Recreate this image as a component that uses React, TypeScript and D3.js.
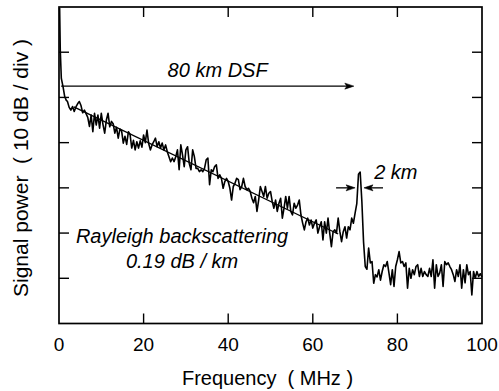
import React from 'react';
import * as d3 from 'd3';

const FREQ_TICKS = [0, 20, 40, 60, 80, 100];
const POWER_TICKS = [10, 20, 30, 40, 50, 60];

// steep start of the trace (MHz, dB)
const START_FREQ = [0.15, 0.3, 0.55, 0.95, 1.35, 1.7];
const START_DB = [69.8, 60.5, 54.2, 52.4, 50.2, 49.4];

// main trace, sampled every 0.4 MHz from 2.0 MHz
const TRACE_F0 = 2.0;
const TRACE_STEP = 0.4;
const TRACE_DB = [
  49.1, 47.8, 47.2, 48.0, 46.9, 47.9, 48.6, 49.1, 48.2, 46.6,
  47.2, 46.4, 45.6, 43.6, 46.1, 42.4, 46.5, 43.9, 46.1, 43.2,
  46.5, 44.0, 42.1, 45.0, 46.5, 43.5, 44.7, 44.2, 42.1, 43.4,
  41.0, 43.0, 42.6, 39.9, 41.4, 39.6, 42.4, 41.8, 38.8, 40.5,
  38.4, 40.2, 38.8, 40.4, 39.0, 41.7, 40.0, 42.8, 39.8, 38.4,
  39.5, 40.2, 41.0, 39.1, 40.2, 38.8, 39.9, 38.4, 39.5, 38.0,
  36.9, 35.8, 36.6, 35.8, 36.9, 38.4, 34.0, 39.5, 37.3, 34.7,
  38.4, 39.1, 35.4, 34.0, 38.4, 36.9, 34.3, 34.3, 33.6, 34.0,
  33.6, 34.3, 36.2, 36.6, 30.7, 34.0, 33.6, 34.7, 35.1, 32.1,
  32.9, 32.1, 29.9, 31.4, 32.1, 31.4, 29.9, 27.3, 30.3, 31.0,
  32.1, 31.8, 29.6, 30.3, 32.1, 30.3, 29.6, 29.9, 29.2, 27.7,
  26.7, 28.1, 24.8, 27.3, 30.3, 29.2, 28.1, 30.3, 27.7, 28.8,
  29.2, 27.0, 25.5, 27.3, 24.8, 26.6, 27.7, 23.3, 25.5, 28.1,
  25.5, 28.1, 24.8, 24.0, 26.6, 25.5, 26.2, 27.3, 24.0, 22.2,
  20.7, 22.5, 23.3, 21.8, 22.9, 21.1, 22.2, 22.9, 20.0, 21.4,
  22.5, 18.5, 22.5, 20.0, 23.3, 20.0, 17.0, 20.3, 20.7, 20.0,
  23.3, 20.3, 18.1, 20.3, 21.4, 18.9, 21.4, 20.7, 23.3, 22.2,
  24.4, 26.5, 33.0, 33.5, 27.0, 18.0, 12.6, 12.0, 16.7, 13.4,
  13.7, 8.9, 10.8, 10.3, 11.9, 9.6, 11.5, 13.0, 12.6, 13.7,
  11.2, 8.6, 11.9, 8.2, 12.6, 14.1, 15.9, 13.4, 13.7, 12.6,
  13.4, 7.8, 12.2, 10.0, 11.9, 10.8, 12.6, 13.0, 10.4, 12.2,
  10.4, 11.5, 10.8, 10.4, 12.2, 10.4, 14.1, 7.8, 13.0, 10.4,
  11.2, 13.0, 8.2, 13.7, 13.0, 13.4, 12.6, 11.9, 10.8, 9.3,
  11.9, 10.4, 13.0, 7.8, 11.9, 9.0, 13.0, 10.8, 11.5, 6.3,
  11.5, 10.0, 11.5, 10.4, 11.0, 10.3,
];

// Rayleigh fit line
const FIT_FREQ = [3.5, 66];
const FIT_DB = [47.9, 19.8];

const FONT = '"Liberation Sans", Arial, Helvetica, sans-serif';

export default function App() {
  const W = 499;
  const H = 391;
  const x = d3.scaleLinear().domain([0, 100]).range([59, 482]);
  const y = d3.scaleLinear().domain([0, 70]).range([323.5, 7]);

  const pts: [number, number][] = [];
  START_FREQ.forEach((f, i) => pts.push([f, START_DB[i]]));
  TRACE_DB.forEach((v, i) => pts.push([TRACE_F0 + i * TRACE_STEP, v]));

  const line = d3
    .line<[number, number]>()
    .x((d) => x(d[0]))
    .y((d) => y(d[1]));

  const fitPts: [number, number][] = FIT_FREQ.map((f, i) => [f, FIT_DB[i]]);

  const [x0, x1] = x.range();
  const [yb, yt] = y.range();
  const TL = 10;

  const arrow = (fromF: number, toF: number, db: number, key: string) => {
    const xa = x(fromF);
    const xb = x(toF);
    const yy = y(db);
    const dir = Math.sign(xb - xa);
    const hl = 9;
    const hw = 3;
    const head = `M${xb},${yy} L${xb - dir * hl},${yy - hw} L${xb - dir * (hl - 2)},${yy} L${xb - dir * hl},${yy + hw} Z`;
    return (
      <g key={key}>
        <line x1={xa} y1={yy} x2={xb - dir * 4} y2={yy} stroke="#000" strokeWidth={1.3} />
        <path d={head} fill="#000" stroke="#000" strokeWidth={0.6} />
      </g>
    );
  };

  return (
    <svg
      width={W}
      height={H}
      style={{ position: 'absolute', left: 0, top: 0, background: '#fff' }}
      fontFamily={FONT}
    >
      <rect x={0} y={0} width={W} height={H} fill="#fff" />
      {/* trace */}
      <path d={line(pts) || ''} fill="none" stroke="#000" strokeWidth={1.6} strokeLinejoin="round" />
      <path d={line(fitPts) || ''} fill="none" stroke="#000" strokeWidth={1.3} />

      {/* frame */}
      <rect x={x0} y={yt} width={x1 - x0} height={yb - yt} fill="none" stroke="#000" strokeWidth={1.7} />

      {/* x ticks */}
      {FREQ_TICKS.filter((t) => t > 0 && t < 100).map((t) => (
        <g key={'xt' + t}>
          <line x1={x(t)} x2={x(t)} y1={yb} y2={yb - TL} stroke="#000" strokeWidth={1.4} />
          <line x1={x(t)} x2={x(t)} y1={yt} y2={yt + TL} stroke="#000" strokeWidth={1.4} />
        </g>
      ))}
      {FREQ_TICKS.map((t) => (
        <text key={'xl' + t} x={x(t)} y={351} fontSize={19} textAnchor="middle" fill="#000">
          {t}
        </text>
      ))}

      {/* y ticks */}
      {POWER_TICKS.map((t) => (
        <g key={'yt' + t}>
          <line x1={x0} x2={x0 + TL} y1={y(t)} y2={y(t)} stroke="#000" strokeWidth={1.4} />
          <line x1={x1} x2={x1 - TL} y1={y(t)} y2={y(t)} stroke="#000" strokeWidth={1.4} />
        </g>
      ))}

      {/* axis titles */}
      <text x={267.5} y={385} fontSize={20} textAnchor="middle" fill="#000" style={{ whiteSpace: 'pre' }}>
        {'Frequency  ( MHz )'}
      </text>
      <text
        transform={`translate(28,168) rotate(-90)`}
        fontSize={21}
        textAnchor="middle"
        fill="#000"
        style={{ whiteSpace: 'pre' }}
      >
        {'Signal power  ( 10 dB / div )'}
      </text>

      {/* annotations */}
      {arrow(0.5, 69.7, 52.5, 'dsf')}
      <text x={x(37.5)} y={y(54.5)} fontSize={20} fontStyle="italic" textAnchor="middle" fill="#000">
        80 km DSF
      </text>

      {arrow(65.5, 70.0, 30.0, 'a1')}
      {arrow(76.6, 72.1, 30.0, 'a2')}
      <text x={x(74.5)} y={y(32.0)} fontSize={20} fontStyle="italic" fill="#000">
        2 km
      </text>

      <text x={x(29.1)} y={y(17.7)} fontSize={20} fontStyle="italic" textAnchor="middle" fill="#000">
        Rayleigh backscattering
      </text>
      <text x={x(29.1)} y={y(12.2)} fontSize={20} fontStyle="italic" textAnchor="middle" fill="#000">
        0.19 dB / km
      </text>
    </svg>
  );
}
